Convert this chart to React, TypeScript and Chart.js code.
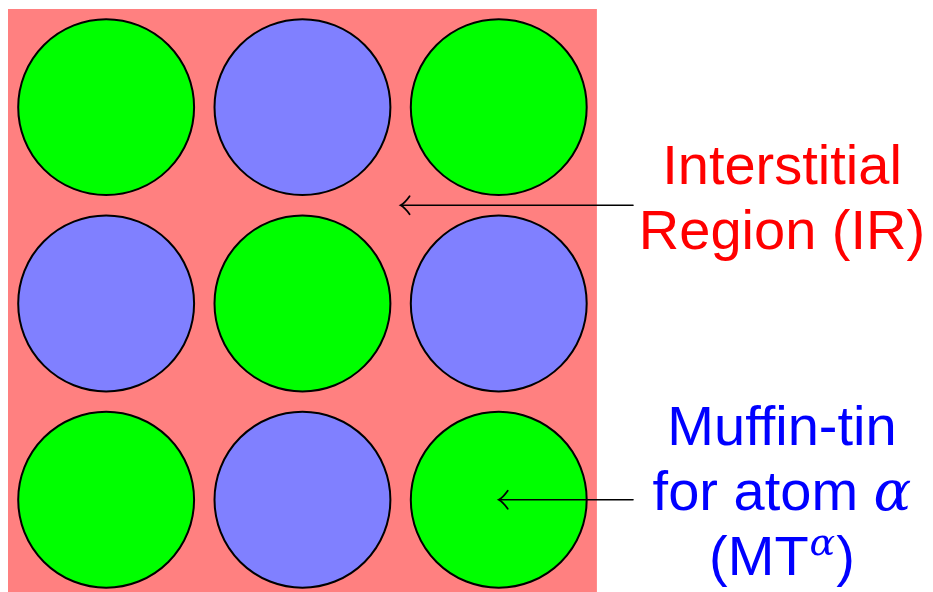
import React, { useEffect, useRef } from "react";
import { Chart, registerables } from "chart.js";

Chart.register(...registerables);

// ---- data (lattice units: one cell = 1) ----
const latticeSize = 3;
const greenSites = [
  { x: 0.5, y: 0.5 },
  { x: 2.5, y: 0.5 },
  { x: 1.5, y: 1.5 },
  { x: 0.5, y: 2.5 },
  { x: 2.5, y: 2.5 },
];
const blueSites = [
  { x: 1.5, y: 0.5 },
  { x: 0.5, y: 1.5 },
  { x: 2.5, y: 1.5 },
  { x: 1.5, y: 2.5 },
];
const muffinTinRadius = 0.448;

const irLabelLines = [[{ t: "Interstitial" }], [{ t: "Region (IR)" }]];
const mtLabelLines = [
  [{ t: "Muffin-tin" }],
  [{ t: "for atom " }, { t: "α", math: true }],
  [{ t: "(MT" }, { t: "α", math: true, sup: true }, { t: ")" }],
];

// arrows: tail -> tip, in lattice units
const irArrow = { from: { x: 3.184, y: 1.0 }, to: { x: 2.0, y: 1.0 } };
const mtArrow = { from: { x: 3.184, y: 2.5 }, to: { x: 2.5, y: 2.5 } };

// label anchor (centre x, first baseline y, line step) in lattice units
const irLabelAnchor = { x: 3.943, y: 0.89, step: 0.331 };
const mtLabelAnchor = { x: 3.943, y: 2.221, step: 0.331 };

const PINK = "#FF8080";
const GREEN = "#00FF00";
const BLUE = "#8080FF";

function radiusPx(ctx: any) {
  const s = ctx.chart.scales.x;
  return s.getPixelForValue(muffinTinRadius) - s.getPixelForValue(0);
}

const squarePlugin = {
  id: "cellSquare",
  beforeDatasetsDraw(chart: any) {
    const { ctx, scales } = chart;
    const x0 = scales.x.getPixelForValue(0);
    const x1 = scales.x.getPixelForValue(latticeSize);
    const y0 = scales.y.getPixelForValue(0);
    const y1 = scales.y.getPixelForValue(latticeSize);
    ctx.save();
    ctx.fillStyle = PINK;
    ctx.fillRect(x0, y0, x1 - x0, y1 - y0);
    ctx.restore();
  },
};

function drawArrow(ctx: CanvasRenderingContext2D, sx: any, sy: any, a: any) {
  const fx = sx.getPixelForValue(a.from.x);
  const fy = sy.getPixelForValue(a.from.y);
  const tx = sx.getPixelForValue(a.to.x);
  const ty = sy.getPixelForValue(a.to.y);
  ctx.save();
  ctx.strokeStyle = "#000";
  ctx.lineWidth = 1.6;
  ctx.lineCap = "round";
  ctx.beginPath();
  ctx.moveTo(fx, fy);
  ctx.lineTo(tx + 1, ty);
  ctx.stroke();
  ctx.lineWidth = 1.8;
  ctx.beginPath();
  ctx.moveTo(tx + 9, ty - 9);
  ctx.quadraticCurveTo(tx + 4, ty - 2, tx, ty);
  ctx.quadraticCurveTo(tx + 4, ty + 2, tx + 9, ty + 9);
  ctx.stroke();
  ctx.restore();
}

const SANS = '56px "Liberation Sans", Arial, sans-serif';
const MATH = 'italic 56px "DejaVu Serif", serif';
const SUP = 'italic 38px "DejaVu Serif", serif';

function drawLabel(ctx: CanvasRenderingContext2D, sx: any, sy: any, lines: any[], anchor: any, color: string) {
  ctx.save();
  ctx.fillStyle = color;
  ctx.textBaseline = "alphabetic";
  ctx.textAlign = "left";
  const cx = sx.getPixelForValue(anchor.x);
  lines.forEach((segs: any[], i: number) => {
    const by = sy.getPixelForValue(anchor.y + i * anchor.step);
    const widths = segs.map((s) => {
      ctx.font = s.sup ? SUP : s.math ? MATH : SANS;
      return ctx.measureText(s.t).width + (s.sup ? 2 : 0);
    });
    const total = widths.reduce((p, w) => p + w, 0);
    let x = cx - total / 2;
    segs.forEach((s, j) => {
      ctx.font = s.sup ? SUP : s.math ? MATH : SANS;
      ctx.fillText(s.t, x + (s.sup ? 1 : 0), s.sup ? by - 20 : by);
      x += widths[j];
    });
  });
  ctx.restore();
}

const annotationPlugin = {
  id: "labelsArrows",
  afterDatasetsDraw(chart: any) {
    const { ctx, scales } = chart;
    drawArrow(ctx, scales.x, scales.y, irArrow);
    drawArrow(ctx, scales.x, scales.y, mtArrow);
    drawLabel(ctx, scales.x, scales.y, irLabelLines, irLabelAnchor, "#FF0000");
    drawLabel(ctx, scales.x, scales.y, mtLabelLines, mtLabelAnchor, "#0000FF");
  },
};

export default function App() {
  const ref = useRef<HTMLCanvasElement | null>(null);
  useEffect(() => {
    if (!ref.current) return;
    const unit = 196.3;
    const chart = new Chart(ref.current, {
      type: "scatter",
      data: {
        datasets: [
          {
            label: "Atom A",
            data: greenSites,
            backgroundColor: GREEN,
            borderColor: "#000",
            borderWidth: 2,
            pointRadius: radiusPx,
            pointHoverRadius: radiusPx,
          } as any,
          {
            label: "Atom B",
            data: blueSites,
            backgroundColor: BLUE,
            borderColor: "#000",
            borderWidth: 2,
            pointRadius: radiusPx,
            pointHoverRadius: radiusPx,
          } as any,
        ],
      },
      options: {
        animation: false,
        responsive: false,
        events: [],
        devicePixelRatio: 1,
        layout: { padding: 0 },
        plugins: { legend: { display: false }, tooltip: { enabled: false } },
        scales: {
          x: { type: "linear", display: false, min: -8 / unit, max: (933 - 8) / unit },
          y: { type: "linear", display: false, reverse: true, min: -9 / unit, max: (592 - 9) / unit },
        },
      } as any,
      plugins: [squarePlugin, annotationPlugin],
    });
    return () => chart.destroy();
  }, []);
  return (
    <div style={{ position: "fixed", left: 0, top: 0, width: 933, height: 592, background: "#fff" }}>
      <canvas ref={ref} width={933} height={592} style={{ width: 933, height: 592 }} />
    </div>
  );
}
